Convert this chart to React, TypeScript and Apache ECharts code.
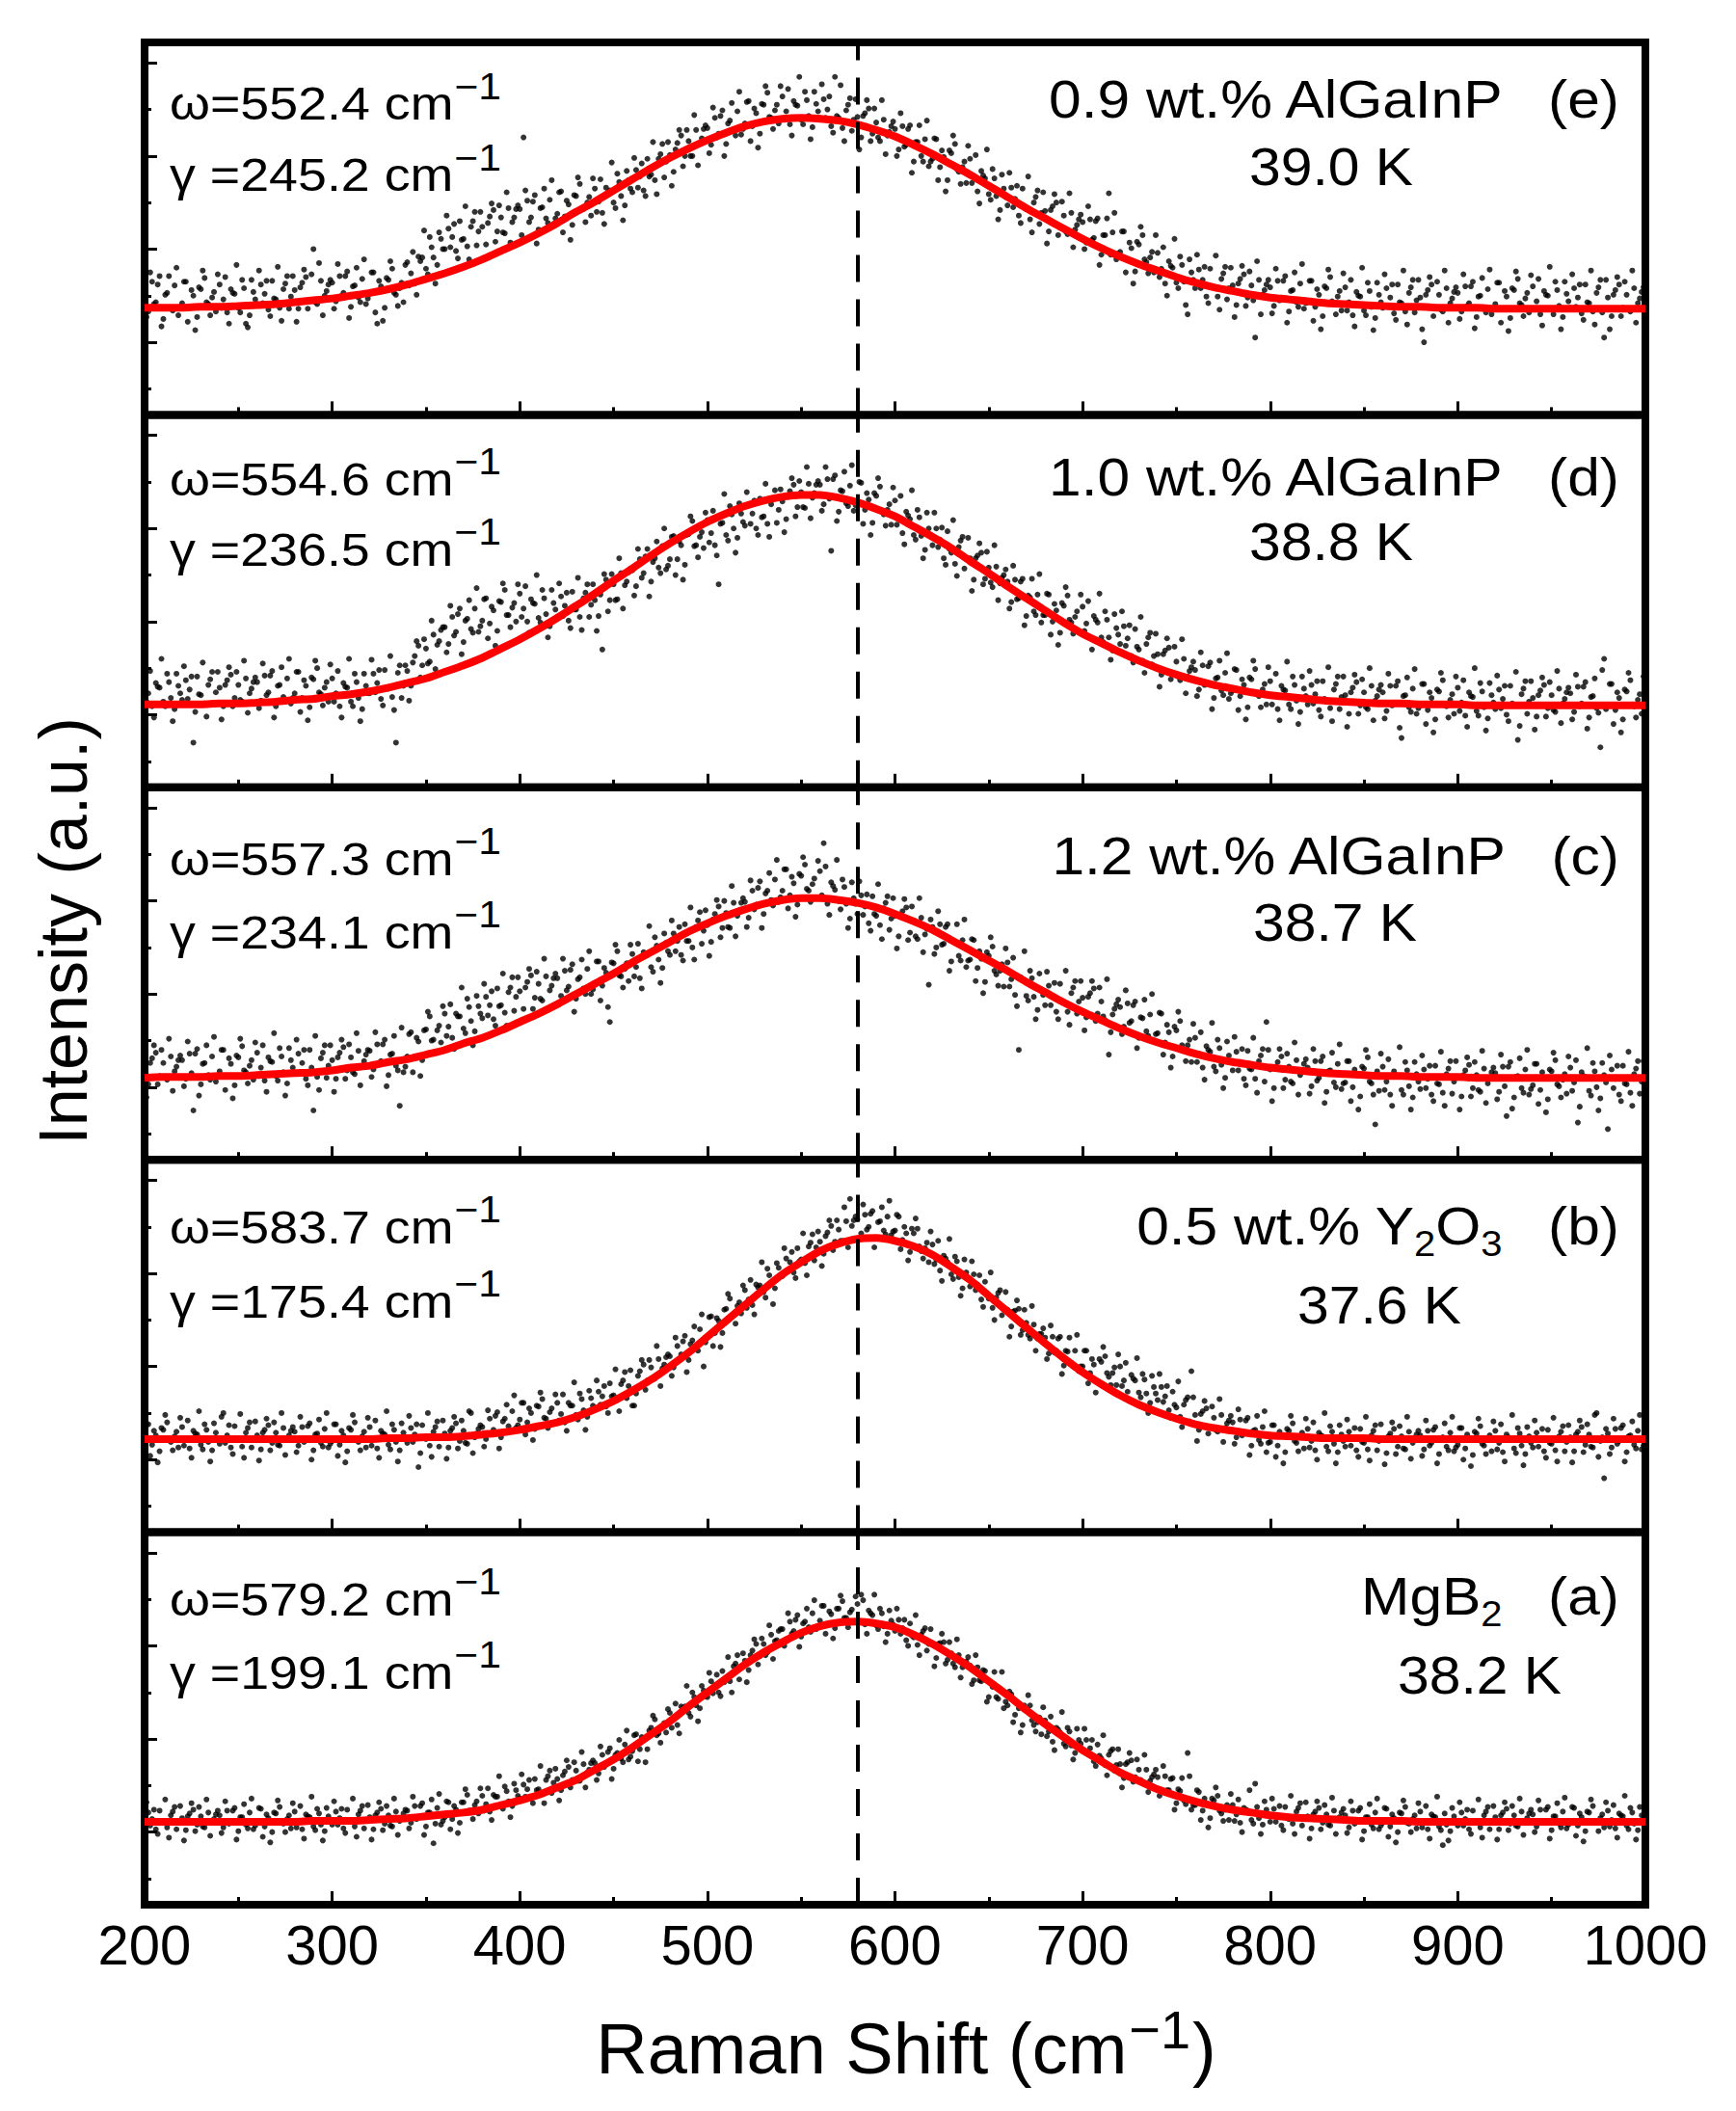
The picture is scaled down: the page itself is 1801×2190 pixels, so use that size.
import React, { useEffect, useRef } from 'react';
import * as echarts from 'echarts';

// ---------- sampling grids ----------
const X_START = 200; // Raman shift of first even-grid point (cm-1)
const X_START_ODD = 201; // Raman shift of first odd-grid point (cm-1)
const X_STEP = 2; // spacing within each grid (cm-1)
const FIT_STEP = 10; // spacing of read-off fit curve samples (cm-1)
const X_MIN = 200;
const X_MAX = 1000;
const X_TICK = 100;
const DASH_X = 580; // position of dashed reference line (cm-1)

// ---------- panel texts (top to bottom) ----------
const panelTags = ['(e)', '(d)', '(c)', '(b)', '(a)'];
const omegaValues = ['552.4', '554.6', '557.3', '583.7', '579.2'];
const gammaValues = ['245.2', '236.5', '234.1', '175.4', '199.1'];
const sampleLabels = [
  '{m|0.9 wt.% AlGaInP}',
  '{m|1.0 wt.% AlGaInP}',
  '{m|1.2 wt.% AlGaInP}',
  '{m|0.5 wt.% Y}{sub|2}{m|O}{sub|3}',
  '{m|MgB}{sub|2}',
];
const tcLabels = ['39.0 K', '38.8 K', '38.7 K', '37.6 K', '38.2 K'];
const xTitleParts = ['Raman Shift (cm', '\u22121', ')'];
const yTitle = 'Intensity (a.u.)';
const unitText = ' cm';
const supText = '\u22121';

// ---------- measured intensities (a.u.), x = 200..1000 step 2 ----------
const intensityE = [
  57,33,65,43,71,25,53,37,61,29,
  42,65,37,50,27,57,69,41,48,33,
  62,46,32,57,52,37,67,20,29,54,
  41,62,52,35,66,46,37,57,71,49,
  56,36,64,70,45,100,41,66,50,62,
  64,44,71,53,76,38,61,48,68,41,
  52,75,20,60,37,67,79,51,58,43,
  86,74,63,92,91,79,113,91,83,111,
  100,122,113,98,130,111,103,124,140,119,
  124,105,135,142,119,134,117,144,129,143,
  143,220,152,134,158,121,145,133,153,127,
  138,162,135,148,126,157,170,143,150,136,
  165,151,139,166,163,150,181,157,147,174,
  161,185,178,163,197,180,174,197,213,194,
  201,183,214,222,200,216,200,228,214,229,
  230,212,241,224,249,213,238,227,248,223,
  235,259,232,246,224,255,268,241,249,235,
  264,248,234,259,254,239,269,243,231,256,
  241,261,250,232,285,241,230,249,262,239,
  242,220,246,251,224,236,216,239,222,232,
  229,207,232,212,233,194,215,200,218,189,
  197,218,188,199,174,203,213,183,188,171,
  197,178,162,184,176,159,186,157,142,165,
  147,166,154,136,165,143,132,150,163,139,
  141,119,146,150,123,136,116,139,121,132,
  129,107,132,112,133,94,115,160,118,89,
  97,119,89,101,76,105,115,86,91,75,
  96,79,63,87,80,64,92,65,30,75,
  58,78,67,49,79,59,49,68,81,58,
  61,40,68,73,48,61,5,67,51,62,
  59,39,66,48,71,33,56,43,63,36,
  43,66,38,51,28,58,70,42,49,34,
  59,43,29,54,49,34,64,38,26,51,
  37,58,48,31,62,42,33,53,67,45,
  48,0,56,62,37,51,33,58,42,54,
  53,33,60,42,65,27,50,37,57,30,
  41,64,36,49,26,56,68,40,47,32,
  60,44,30,55,50,35,65,39,27,52,
  37,58,48,31,62,42,33,53,67,5,
  48,28,56,62,37,51,33,58,42,54,
  40,
];
// x = 201..999 step 2
const intensityEOdd = [
  27,75,41,62,17,51,71,34,80,38,
  65,22,56,13,59,77,43,29,54,73,
  37,70,20,53,83,32,58,16,67,46,
  77,42,66,28,47,81,23,63,36,71,
  22,59,78,36,73,43,85,29,55,67,
  36,84,50,71,26,60,80,43,89,47,
  75,32,66,23,69,87,53,39,64,83,
  61,97,51,87,120,73,102,63,118,100,
  136,102,127,90,110,146,89,130,104,140,
  90,128,149,108,147,118,161,107,134,147,
  115,163,129,151,106,144,165,128,174,133,
  161,118,152,110,158,177,143,129,156,176,
  140,175,127,161,193,144,172,131,184,165,
  198,166,192,157,178,215,159,202,177,215,
  168,207,228,189,228,200,244,190,219,233,
  203,252,220,243,200,235,257,222,269,229,
  258,216,251,209,256,275,242,229,255,275,
  239,272,222,255,285,234,260,218,269,248,
  277,241,264,225,243,276,216,255,227,261,
  207,243,260,216,251,220,260,202,226,237,
  200,246,210,229,182,215,233,194,238,194,
  219,174,206,162,206,222,186,170,194,211,
  171,201,149,179,207,153,176,132,180,156,
  182,145,168,128,145,178,118,156,127,161,
  106,142,159,115,151,119,160,102,126,137,
  100,146,110,130,83,115,133,94,139,95,
  119,75,107,63,108,124,89,74,97,115,
  70,102,50,82,111,58,83,40,89,67,
  94,58,81,42,60,93,35,74,46,80,
  27,63,82,39,76,45,87,30,56,67,
  31,79,45,66,21,55,75,38,84,42,
  66,23,57,14,60,78,44,30,55,74,
  34,67,17,50,80,29,55,13,64,43,
  73,38,62,24,43,77,19,59,32,67,
  14,51,70,28,65,35,77,21,47,59,
  25,73,39,60,15,49,69,32,78,36,
  64,21,55,12,58,76,42,28,53,72,
  35,68,18,51,81,30,56,14,65,44,
  73,38,62,24,43,77,19,59,32,67,
  14,51,70,28,65,35,77,21,47,59,
];

const intensityD = [
  39,23,9,34,29,14,44,18,6,31,
  16,37,27,-30,41,21,12,32,46,24,
  29,9,37,43,18,32,14,39,23,35,
  35,15,42,24,47,9,32,19,39,12,
  23,46,18,31,8,38,50,22,29,14,
  39,23,9,34,29,14,44,18,6,31,
  23,44,34,17,48,28,19,-30,53,31,
  47,31,63,74,53,71,57,86,75,91,
  94,76,105,89,114,78,103,92,114,89,
  101,125,98,112,90,121,134,107,115,100,
  130,114,100,124,119,104,134,108,95,120,
  105,127,117,101,132,113,105,125,140,118,
  123,106,70,145,123,140,124,152,139,153,
  155,138,167,152,178,143,168,158,181,156,
  167,192,167,182,161,194,208,182,191,179,
  209,195,182,140,206,193,224,200,190,216,
  203,225,216,200,232,213,205,226,241,220,
  229,210,240,247,223,239,222,248,233,247,
  247,226,253,176,257,218,240,227,246,219,
  228,249,220,231,206,235,245,215,220,204,
  230,212,195,218,210,193,220,192,177,200,
  182,200,188,168,197,174,162,180,191,167,
  168,145,171,174,146,158,137,159,141,150,
  143,121,145,125,146,106,126,111,129,99,
  107,129,100,112,88,117,128,99,105,89,
  116,98,83,106,99,83,111,83,69,93,
  76,95,82,63,92,70,58,76,88,63,
  65,43,69,72,45,57,37,60,41,51,
  48,27,53,34,56,18,40,26,45,17,
  26,48,20,32,8,38,49,20,27,11,
  36,20,6,31,26,11,41,15,3,28,
  11,32,22,5,36,16,7,27,41,19,
  21,1,29,35,10,24,6,31,15,27,
  24,4,31,13,36,-25,21,8,28,1,
  10,33,5,18,-5,25,37,9,16,1,
  29,13,-1,24,19,4,34,8,-4,21,
  6,27,17,0,31,11,-27,22,36,14,
  18,-2,26,32,7,21,3,28,12,24,
  23,3,30,12,35,-3,20,7,-35,60,
  10,33,5,18,-5,25,37,9,16,1,
  20,
];
const intensityDOdd = [
  14,47,-3,30,60,9,35,-7,44,23,
  52,17,41,3,22,56,-2,38,11,46,
  -5,32,51,9,46,16,58,2,28,40,
  7,55,21,42,-3,31,51,14,60,18,
  46,3,37,-6,40,58,24,10,35,54,
  14,47,-3,30,60,9,35,-7,44,23,
  59,24,48,10,29,63,5,45,18,53,
  15,56,79,40,81,55,101,49,79,94,
  67,117,85,108,65,101,123,88,136,95,
  124,82,116,74,122,141,107,94,120,140,
  105,138,88,120,150,99,125,83,134,113,
  141,106,131,93,113,147,91,131,105,140,
  90,129,151,111,151,123,168,114,143,157,
  128,178,147,170,127,164,186,152,200,160,
  191,150,186,145,193,213,181,169,196,217,
  185,219,171,205,237,187,215,174,227,207,
  239,205,230,193,212,248,191,232,206,242,
  196,234,254,213,251,223,266,211,238,251,
  219,266,232,253,208,241,261,224,268,225,
  250,205,238,193,238,254,219,203,226,244,
  204,235,183,214,241,188,212,168,217,193,
  217,180,201,161,178,209,149,187,157,190,
  133,168,184,140,175,142,182,123,147,156,
  114,160,124,143,96,128,146,107,151,107,
  130,86,119,75,120,137,102,87,111,129,
  90,122,70,102,130,78,102,59,108,86,
  111,74,96,56,73,105,45,83,54,87,
  30,65,82,38,73,41,81,23,47,57,
  20,67,32,52,6,39,58,21,66,23,
  49,5,38,-5,40,58,23,8,33,51,
  11,44,-6,27,57,6,32,-10,41,20,
  47,12,36,-2,17,51,-7,33,6,41,
  -13,24,43,1,38,8,50,-6,20,32,
  -4,44,10,31,-14,20,40,3,49,7,
  33,-10,24,-19,27,45,11,-3,22,41,
  4,37,-13,20,50,-1,25,-17,34,13,
  42,7,31,-7,12,46,-12,28,1,36,
  -16,21,40,-2,35,5,47,-9,17,29,
  -5,43,9,30,-15,19,39,2,48,6,
  33,-10,24,-19,27,45,11,-3,22,41,
];

const intensityC = [
  23,3,31,37,12,26,8,33,17,29,
  29,9,36,-25,41,3,26,13,33,6,
  17,40,12,25,2,32,44,16,23,8,
  37,21,7,32,27,12,42,16,4,29,
  15,36,26,9,40,-25,11,31,45,23,
  29,9,37,43,18,32,14,39,23,35,
  39,19,46,28,51,13,36,23,-20,16,
  33,59,33,49,29,62,76,51,61,48,
  79,65,53,79,76,63,95,71,60,87,
  74,97,88,73,106,88,80,102,118,97,
  103,84,113,120,96,111,93,119,104,117,
  117,98,125,108,132,95,118,106,127,100,
  111,135,109,123,70,133,146,119,127,114,
  143,129,117,145,142,129,161,137,128,155,
  142,165,157,142,175,157,150,172,188,168,
  174,156,186,194,171,187,171,198,184,198,
  199,182,211,196,221,186,211,201,223,199,
  211,234,206,219,196,227,239,211,218,203,
  232,262,197,220,212,200,223,197,181,203,
  186,206,194,176,205,184,174,192,205,181,
  184,162,189,193,166,179,159,182,164,110,
  172,150,175,154,175,135,156,141,158,129,
  137,158,128,138,113,141,151,121,125,108,
  134,116,99,40,115,98,125,97,83,105,
  88,109,98,81,111,91,81,101,114,92,
  96,75,101,106,79,92,72,35,78,89,
  86,65,90,71,92,53,74,60,78,50,
  58,79,48,59,33,61,71,40,45,27,
  53,36,21,44,38,22,51,24,10,34,
  18,38,27,9,39,19,9,28,41,70,
  19,-1,27,33,8,22,4,29,13,25,
  21,1,28,10,33,-5,18,5,25,-2,
  5,28,0,13,-10,20,32,4,-40,-4,
  22,6,-8,17,12,-3,27,1,-11,14,
  -2,19,9,-8,23,3,-6,14,28,6,
  10,-10,18,24,-1,13,-5,20,4,16,
  15,-5,22,-31,27,-11,12,-1,19,-8,
  2,25,-3,10,-13,17,29,1,8,-7,
  21,5,-38,16,11,-4,26,0,-12,13,
  -45,19,9,-8,23,3,-6,14,28,6,
  8,
];
const intensityCOdd = [
  -11,26,45,3,40,10,52,-4,22,34,
  1,49,15,36,-9,25,45,8,54,12,
  40,-3,31,-12,34,52,18,4,29,48,
  12,45,-5,28,58,7,33,-9,42,21,
  51,16,40,2,21,55,-3,37,10,45,
  -5,32,51,9,46,16,58,2,28,40,
  11,59,25,46,1,35,55,18,64,22,
  57,16,53,12,61,81,50,38,66,87,
  55,89,41,76,107,58,86,45,98,79,
  111,77,103,66,87,122,66,107,82,118,
  70,107,127,84,124,95,138,83,109,122,
  89,138,104,126,81,116,137,100,146,105,
  135,93,128,86,134,153,120,107,133,153,
  119,154,106,141,173,124,152,112,165,146,
  179,146,172,136,157,193,137,179,154,190,
  141,180,201,161,200,172,216,162,190,203,
  172,222,191,214,171,208,230,195,244,204,
  234,192,226,183,229,247,213,199,224,243,
  206,237,185,216,244,191,215,171,220,197,
  221,185,207,168,186,218,159,198,169,203,
  149,184,202,158,194,162,203,145,170,180,
  143,189,153,172,125,157,175,136,180,136,
  159,114,146,101,145,161,125,109,132,149,
  108,139,87,118,146,93,117,73,122,99,
  124,88,112,73,92,125,67,107,79,114,
  61,97,114,71,107,76,116,59,84,94,
  57,104,69,88,42,75,94,55,100,57,
  80,35,67,21,65,81,45,28,51,68,
  27,59,8,40,69,17,42,-1,49,27,
  54,18,41,2,20,53,-6,34,6,40,
  -15,22,41,-1,36,6,48,-8,18,30,
  -7,41,7,28,-17,17,37,0,46,4,
  28,-15,19,-24,22,40,6,-8,17,36,
  -3,30,-20,13,43,-8,18,-24,27,6,
  34,-1,23,-15,4,38,-20,20,-7,28,
  -24,13,32,-10,27,-3,39,-17,9,21,
  -13,35,1,22,-23,11,31,-6,40,-2,
  25,-18,16,-27,19,37,3,-11,14,33,
  -4,29,-21,12,42,-9,17,-25,26,5,
  34,-1,23,-15,4,38,-20,20,-7,28,
];

const intensityB = [
  20,38,16,26,9,32,40,19,25,13,
  35,22,12,31,27,16,38,19,10,29,
  17,50,26,13,36,21,14,29,40,23,
  26,11,32,37,18,29,15,34,22,31,
  30,15,35,22,39,10,28,18,33,13,
  20,38,16,26,9,32,40,19,25,13,
  35,22,12,31,27,16,38,19,10,29,
  18,34,27,-8,37,22,15,30,41,24,
  28,13,34,39,20,31,17,50,24,33,
  35,22,44,32,51,24,44,36,52,34,
  43,61,40,50,33,57,65,44,51,39,
  61,49,40,61,58,48,71,53,46,66,
  55,73,68,57,82,69,64,81,94,79,
  58,71,95,102,85,99,87,108,98,110,
  111,99,122,113,133,107,128,121,140,100,
  133,154,136,149,136,162,173,156,165,157,
  182,172,166,188,187,180,205,189,184,206,
  197,216,212,201,227,215,211,229,242,228,
  234,221,244,251,234,247,235,256,280,257,
  258,243,263,250,267,238,256,246,261,241,
  246,261,236,243,223,243,248,224,227,212,
  231,215,203,219,212,199,218,196,184,201,
  186,199,188,172,191,173,163,174,182,161,
  161,143,160,162,139,147,130,145,130,135,
  131,114,132,117,132,101,116,104,117,95,
  100,117,93,102,83,105,111,89,93,80,
  100,85,73,91,85,72,92,71,61,78,
  64,78,68,53,73,56,46,59,67,95,
  48,32,52,55,35,45,30,48,34,42,
  40,24,43,29,45,15,32,21,35,8,
  19,37,15,25,8,31,39,18,24,12,
  33,20,10,29,25,14,36,17,8,27,
  14,30,23,10,33,18,11,26,37,20,
  22,7,28,33,14,25,11,30,18,27,
  26,11,31,18,35,6,24,14,29,9,
  16,34,12,22,5,28,36,15,21,9,
  31,18,8,27,23,12,34,15,6,25,
  13,29,22,9,32,17,10,25,36,19,
  24,9,30,35,16,27,13,50,20,-20,
  28,13,33,20,37,8,26,16,31,11,
  25,
];
const intensityBOdd = [
  38,4,31,-3,34,48,21,10,30,45,
  15,42,2,28,52,11,32,-2,39,22,
  46,18,37,6,22,49,2,34,13,41,
  -1,29,44,10,40,16,50,5,26,35,
  8,46,19,36,0,27,43,14,50,17,
  38,4,31,-3,34,48,21,10,30,45,
  15,42,2,28,52,11,32,-2,39,22,
  47,19,38,7,23,50,3,35,14,42,
  1,31,46,12,42,18,52,7,28,37,
  14,53,28,47,12,41,59,31,69,37,
  61,27,55,21,58,72,45,34,55,70,
  42,70,31,58,83,43,65,32,74,58,
  85,59,79,50,68,97,52,85,66,96,
  58,90,107,75,107,86,122,79,102,113,
  90,131,107,127,94,124,143,117,156,126,
  153,122,152,121,161,178,154,146,169,187,
  163,193,156,185,212,174,198,167,211,197,
  227,202,223,195,213,243,198,233,214,245,
  208,240,257,225,257,235,271,228,251,261,
  236,274,247,264,228,255,271,242,278,245,
  263,226,250,214,248,259,229,216,233,245,
  210,235,192,216,237,194,213,176,215,195,
  213,182,198,164,177,201,150,179,155,180,
  132,159,171,134,161,134,165,117,135,141,
  108,144,115,130,92,117,131,100,134,100,
  117,82,108,72,108,121,93,80,99,113,
  79,104,63,87,109,67,86,50,90,71,
  92,62,79,45,59,84,35,64,41,67,
  20,49,63,28,57,32,65,19,39,47,
  17,54,26,42,5,31,47,17,52,18,
  37,3,30,-4,33,47,20,9,29,44,
  13,40,0,26,50,9,30,-4,37,20,
  43,15,34,3,19,46,-1,31,10,38,
  -5,25,40,6,36,12,46,1,22,31,
  4,42,15,32,-4,23,39,10,46,13,
  34,0,27,-7,30,44,17,6,26,41,
  11,38,-2,24,48,7,28,-6,35,18,
  42,14,33,2,18,45,-2,30,9,37,
  -3,27,42,8,38,14,48,3,24,33,
  6,44,17,34,-2,25,41,12,48,15,
];

const intensityA = [
  7,21,14,3,23,10,5,18,27,12,
  15,2,20,24,8,17,5,21,11,19,
  18,5,23,11,26,1,16,8,21,3,
  10,25,6,15,0,20,27,9,14,4,
  22,12,3,19,16,6,25,8,1,17,
  8,22,15,4,24,11,6,19,28,13,
  16,3,21,25,9,18,6,22,12,20,
  23,10,28,16,31,6,21,-12,26,8,
  16,32,14,24,10,32,40,23,29,20,
  39,30,22,40,38,29,49,33,28,45,
  36,51,46,36,57,46,42,56,66,53,
  57,45,65,70,56,66,55,73,64,74,
  74,63,83,73,90,68,85,79,94,78,
  87,105,89,101,89,112,121,106,114,107,
  128,121,115,135,135,128,150,136,133,152,
  145,162,158,150,173,164,162,178,190,178,
  184,174,195,202,189,202,193,212,205,216,
  218,207,226,216,233,210,226,220,235,218,
  227,243,224,234,219,240,248,230,236,226,
  245,255,223,238,233,222,240,221,213,227,
  216,228,219,206,224,209,201,212,219,202,
  203,187,203,204,185,192,177,190,177,183,
  179,163,177,162,173,145,156,145,154,133,
  136,148,126,133,115,132,136,115,118,105,
  120,108,97,112,107,95,112,93,85,99,
  87,99,90,76,94,79,72,83,89,72,
  73,58,75,77,59,67,53,67,55,62,
  59,44,60,45,58,31,44,34,85,24,
  29,43,23,31,15,34,39,20,24,13,
  29,19,10,26,23,13,52,15,8,24,
  11,25,18,7,27,14,9,22,31,16,
  17,4,22,26,10,19,7,23,13,21,
  18,5,23,11,26,1,16,8,21,3,
  10,25,6,15,0,20,27,9,14,4,
  22,12,3,19,16,6,-14,8,1,17,
  7,21,14,3,23,10,5,18,27,12,
  16,3,21,25,9,18,6,22,12,20,
  19,6,24,12,27,2,17,9,22,4,
  11,26,7,16,1,21,28,10,15,5,
  23,13,4,20,17,7,26,9,2,18,
  16,
];
const intensityAOdd = [
  32,7,24,-2,11,35,-6,22,3,28,
  -9,17,31,1,27,6,35,-4,14,23,
  -1,33,9,23,-8,16,30,4,36,7,
  26,-5,19,-11,21,34,10,0,18,31,
  5,28,-7,17,38,2,20,-9,26,12,
  33,8,25,-1,12,36,-5,23,4,29,
  -8,18,32,2,28,7,36,-3,15,24,
  4,38,14,28,-3,21,35,9,41,12,
  33,3,28,-1,32,46,23,14,33,47,
  23,47,13,38,60,25,44,16,52,39,
  62,38,56,31,45,71,31,60,42,68,
  34,61,77,48,75,55,86,48,67,77,
  56,92,70,86,57,83,99,75,109,81,
  104,76,102,75,109,125,104,96,117,132,
  112,138,106,133,157,124,145,119,157,146,
  171,149,169,146,161,188,150,181,164,192,
  161,190,207,180,208,190,222,186,206,218,
  200,235,213,228,199,224,240,215,249,221,
  243,213,237,208,240,254,230,220,239,253,
  227,249,213,235,255,218,235,204,238,223,
  240,213,228,200,211,233,190,216,195,218,
  178,202,213,181,204,181,207,166,181,188,
  159,190,163,174,140,161,172,143,172,140,
  151,118,139,107,136,147,120,108,123,134,
  103,124,88,110,129,92,108,78,111,95,
  111,84,99,71,82,104,61,87,66,89,
  48,73,85,54,78,56,83,43,59,67,
  39,71,45,57,24,46,58,30,60,29,
  45,13,36,5,36,48,23,12,29,41,
  12,35,0,24,45,9,27,-2,33,19,
  36,11,28,2,15,39,-2,26,7,32,
  -7,19,33,3,29,8,37,-2,16,25,
  -1,33,9,23,-8,16,30,4,36,7,
  26,-5,19,-11,21,34,10,0,18,31,
  5,28,-7,17,38,2,20,-9,26,12,
  32,7,24,-2,11,35,-6,22,3,28,
  -8,18,32,2,28,7,36,-3,15,24,
  0,34,10,24,-7,17,31,5,37,8,
  27,-4,20,-10,22,35,11,1,19,32,
  6,29,-6,18,39,3,21,-8,27,13,
];

// ---------- fitted curves, x = 200..1000 step 10 ----------
const fitE = [
  37,37,37,38,38,39,40,41,43,45,
  47,50,53,57,62,68,74,81,89,98,
  107,117,128,140,151,163,175,187,198,208,
  217,225,232,237,240,241,240,238,234,228,
  221,212,202,191,180,168,156,144,133,122,
  111,101,92,84,77,70,64,59,55,51,
  48,46,44,42,41,40,39,38,38,37,
  37,37,36,36,36,36,36,36,36,36,
  36,
];
const fitD = [
  11,11,11,11,12,12,13,14,16,17,
  20,22,25,29,34,39,46,53,61,71,
  81,92,104,117,130,144,157,171,184,196,
  207,216,224,230,234,236,236,233,228,221,
  213,202,191,179,165,152,138,125,112,99,
  87,77,67,58,50,43,37,32,28,24,
  21,19,17,15,14,13,12,12,11,11,
  11,10,10,10,10,10,10,10,10,10,
  10,
];
const fitC = [
  10,11,11,11,12,12,13,14,15,16,
  18,21,23,27,30,35,40,47,53,61,
  70,79,89,100,111,122,134,145,156,167,
  176,184,191,197,201,203,203,201,198,193,
  186,178,169,158,147,136,125,113,102,91,
  81,72,63,55,48,42,36,31,27,24,
  21,19,17,15,14,13,12,12,11,11,
  11,10,10,10,10,10,10,10,10,10,
  10,
];
const fitB = [
  22,22,22,22,22,22,22,22,22,22,
  22,22,22,23,23,24,24,25,27,29,
  32,36,40,46,54,63,74,86,100,115,
  132,149,166,183,199,212,224,232,237,238,
  235,229,220,207,193,176,159,142,125,109,
  94,81,69,59,51,44,38,34,31,28,
  26,25,24,23,23,23,22,22,22,22,
  22,22,22,22,22,22,22,22,22,22,
  22,
];
const fitA = [
  11,11,11,11,11,11,11,11,11,12,
  12,12,13,14,15,17,19,21,24,29,
  34,40,48,56,67,78,91,105,119,135,
  150,165,180,193,204,214,221,225,226,224,
  220,212,202,190,177,162,147,131,116,102,
  88,76,64,55,46,39,33,28,24,21,
  18,16,15,14,13,12,12,12,11,11,
  11,11,11,11,11,11,11,11,11,11,
  11,
];

const panelEven = [intensityE, intensityD, intensityC, intensityB, intensityA];
const panelOdd = [intensityEOdd, intensityDOdd, intensityCOdd, intensityBOdd, intensityAOdd];
const panelFits = [fitE, fitD, fitC, fitB, fitA];

// ---------- layout (pixels) ----------
const W = 1801;
const H = 2190;
const GRID_LEFT = 150;
const GRID_WIDTH = 1557;
const GRID_TOP = 44;
const PANEL_H = 386.4;
const Y_MIN = -78;
const Y_MAX = 322;
const FONT = "'Liberation Sans', Arial, Helvetica, sans-serif";
const LEFT_X = 176;
const RIGHT_X = 1680;
const LEFT_FS = 48;
const LEFT_SUP_FS = 38;
const LEFT_SX = 1.12;
const RIGHT_FS = 56;
const RIGHT_SX = 1.08;
const TITLE_FS = 74;
const TITLE_SUP_FS = 56;
const leftY1 = [64, 67, 75, 70, 70];
const leftY2 = [138, 140, 151, 147, 146];
const rightY1 = [58, 64, 71, 69, 66];
const rightY2 = [128, 131, 140, 150, 148];
const tcX = [1381, 1381, 1385, 1431, 1535];

function toPoints(values: number[], start: number, step: number) {
  return values.map((v, i) => [start + i * step, v]);
}

let measureCtx: CanvasRenderingContext2D | null = null;
function textWidth(str: string, size: number) {
  if (!measureCtx) measureCtx = document.createElement('canvas').getContext('2d');
  if (!measureCtx) return str.length * size * 0.55;
  measureCtx.font = `${size}px ${FONT}`;
  return measureCtx.measureText(str).width;
}

export default function App() {
  const ref = useRef<HTMLDivElement>(null);

  useEffect(() => {
    if (!ref.current) return;
    const chart = echarts.init(ref.current, undefined, { renderer: 'svg', width: W, height: H });

    const n = panelEven.length;
    const grids: any[] = [];
    const xAxes: any[] = [];
    const yAxes: any[] = [];
    const series: any[] = [];
    const graphics: any[] = [];

    const subFs = Math.round(RIGHT_FS * 0.66);
    const richRight = {
      m: { fontSize: RIGHT_FS, fontFamily: FONT, fill: '#000', lineHeight: RIGHT_FS, verticalAlign: 'top' },
      sub: { fontSize: subFs, fontFamily: FONT, fill: '#000', lineHeight: subFs, verticalAlign: 'bottom' },
      sp: { width: 1, fontSize: 10, lineHeight: 65, verticalAlign: 'top' },
      gap: { width: 44, fontSize: RIGHT_FS, lineHeight: RIGHT_FS, verticalAlign: 'top' },
    };

    const plainText = (x: number, y: number, text: string, size: number, sx: number, align: string) => ({
      type: 'text',
      x,
      y,
      scaleX: sx,
      silent: true,
      style: {
        text,
        fontSize: size,
        fontFamily: FONT,
        fill: '#000',
        align,
        verticalAlign: 'middle',
      },
    });

    // text with a superscript placed after it (left annotations)
    const withSup = (x: number, yc: number, main: string) => {
      const w = textWidth(main, LEFT_FS) * LEFT_SX;
      const supY = yc - (0.358 * LEFT_FS + 15) + 0.358 * LEFT_SUP_FS;
      graphics.push(plainText(x, yc, main, LEFT_FS, LEFT_SX, 'left'));
      graphics.push(plainText(x + w + 1, supY, supText, LEFT_SUP_FS, LEFT_SX, 'left'));
    };

    for (let i = 0; i < n; i++) {
      const top = GRID_TOP + i * PANEL_H;
      grids.push({
        left: GRID_LEFT,
        top,
        width: GRID_WIDTH,
        height: PANEL_H,
        show: true,
        borderColor: '#000',
        borderWidth: 8,
        backgroundColor: 'transparent',
      });
      xAxes.push({
        type: 'value',
        gridIndex: i,
        position: 'bottom',
        min: X_MIN,
        max: X_MAX,
        interval: X_TICK,
        axisLine: { show: true, onZero: false, lineStyle: { color: '#000', width: 1 } },
        splitLine: { show: false },
        axisTick: { show: true, inside: true, length: 14, lineStyle: { color: '#000', width: 3 } },
        minorTick: { show: true, splitNumber: 2, length: 8, lineStyle: { color: '#000', width: 3 } },
        axisLabel: {
          show: i === n - 1,
          fontSize: 58,
          color: '#000',
          margin: 12,
          fontFamily: FONT,
          formatter: (v: number) => String(v),
        },
      });
      yAxes.push({
        type: 'value',
        gridIndex: i,
        position: 'left',
        min: Y_MIN,
        max: Y_MAX,
        splitNumber: 4,
        axisLine: { show: true, onZero: false, lineStyle: { color: '#000', width: 1 } },
        splitLine: { show: false },
        axisLabel: { show: false },
        axisTick: { show: true, inside: true, length: 13, lineStyle: { color: '#000', width: 3 } },
        minorTick: { show: true, splitNumber: 2, length: 7, lineStyle: { color: '#000', width: 3 } },
      });
      const pts = toPoints(panelEven[i], X_START, X_STEP).concat(
        toPoints(panelOdd[i], X_START_ODD, X_STEP)
      );
      series.push({
        type: 'scatter',
        xAxisIndex: i,
        yAxisIndex: i,
        data: pts,
        symbol: 'circle',
        symbolSize: 6,
        itemStyle: { color: '#000' },
        z: 2,
        silent: true,
        markLine: {
          silent: true,
          symbol: ['none', 'none'],
          label: { show: false },
          lineStyle: { color: '#000', width: 4, type: [28, 18] },
          data: [{ xAxis: DASH_X }],
        },
      });
      series.push({
        type: 'line',
        xAxisIndex: i,
        yAxisIndex: i,
        data: toPoints(panelFits[i], X_START, FIT_STEP),
        smooth: 0.3,
        showSymbol: false,
        symbol: 'none',
        lineStyle: { color: '#ff0000', width: 8 },
        z: 3,
        silent: true,
      });

      withSup(LEFT_X, top + leftY1[i], `\u03c9=${omegaValues[i]}${unitText}`);
      withSup(LEFT_X, top + leftY2[i], `\u03b3 =${gammaValues[i]}${unitText}`);

      const hasSub = sampleLabels[i].indexOf('{sub|') >= 0;
      graphics.push({
        type: 'text',
        x: RIGHT_X,
        y: top + rightY1[i] + (hasSub ? 4 : 0),
        scaleX: RIGHT_SX,
        silent: true,
        style: {
          text: `${hasSub ? '{sp| }' : ''}${sampleLabels[i]}{gap| }{m|${panelTags[i]}}`,
          align: 'right',
          verticalAlign: 'middle',
          rich: richRight,
        },
      });
      graphics.push(plainText(tcX[i], top + rightY2[i], tcLabels[i], RIGHT_FS, RIGHT_SX - 0.03, 'center'));
    }

    // x-axis title with superscript
    const titleY = 2125;
    const w1 = textWidth(xTitleParts[0], TITLE_FS);
    const w2 = textWidth(xTitleParts[1], TITLE_SUP_FS);
    const w3 = textWidth(xTitleParts[2], TITLE_FS);
    const startX = 940 - (w1 + w2 + w3 + 4) / 2;
    const titleSupY = titleY - (0.358 * TITLE_FS + 13) + 0.358 * TITLE_SUP_FS;
    graphics.push(plainText(startX, titleY, xTitleParts[0], TITLE_FS, 1, 'left'));
    graphics.push(plainText(startX + w1 + 2, titleSupY, xTitleParts[1], TITLE_SUP_FS, 1, 'left'));
    graphics.push(plainText(startX + w1 + w2 + 4, titleY, xTitleParts[2], TITLE_FS, 1, 'left'));

    graphics.push({
      type: 'text',
      x: 66,
      y: 966,
      rotation: Math.PI / 2,
      silent: true,
      style: {
        text: yTitle,
        fontSize: 70,
        fontFamily: FONT,
        fill: '#000',
        align: 'center',
        verticalAlign: 'middle',
      },
    });

    chart.setOption({
      animation: false,
      backgroundColor: '#fff',
      grid: grids,
      xAxis: xAxes,
      yAxis: yAxes,
      series,
      graphic: { elements: graphics },
    });

    return () => {
      chart.dispose();
    };
  }, []);

  return (
    <div
      ref={ref}
      style={{ position: 'absolute', left: 0, top: 0, width: W, height: H, background: '#fff' }}
    />
  );
}
